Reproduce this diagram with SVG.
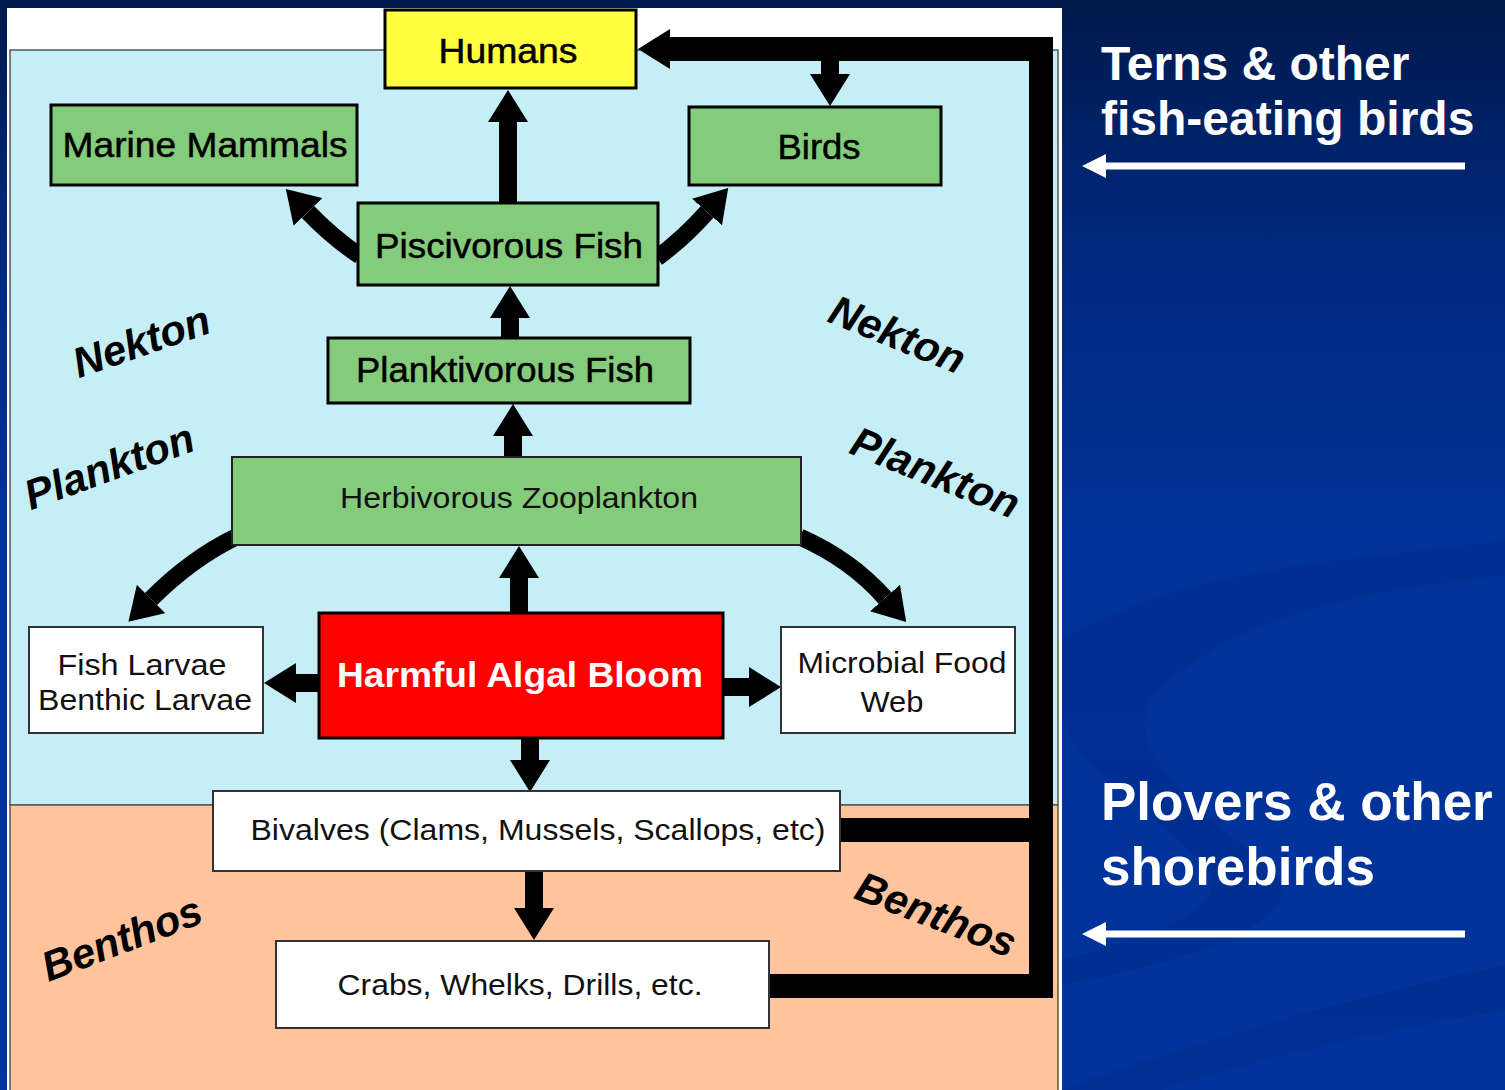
<svg xmlns="http://www.w3.org/2000/svg" width="1505" height="1090" viewBox="0 0 1505 1090">
<defs>
<linearGradient id="bg" x1="0" y1="0" x2="0" y2="1">
<stop offset="0" stop-color="#00194b"/>
<stop offset="0.22" stop-color="#00287c"/>
<stop offset="0.5" stop-color="#003398"/>
<stop offset="1" stop-color="#00349c"/>
</linearGradient>
<marker id="head" viewBox="0 0 32 40" refX="0" refY="20" markerWidth="32" markerHeight="40" markerUnits="userSpaceOnUse" orient="auto">
<path d="M0,0 L32,20 L0,40 Z" fill="#000"/>
</marker>
<marker id="whead" viewBox="0 0 24 24" refX="0" refY="12" markerWidth="24" markerHeight="24" markerUnits="userSpaceOnUse" orient="auto">
<path d="M0,0 L24,12 L0,24 Z" fill="#fff"/>
</marker>
</defs>
<style>
.box{stroke:#000;stroke-width:3}
.green{fill:#84cc7c}
.wbox{fill:#fff;stroke:#333;stroke-width:2}
.t{font-family:"Liberation Sans",Arial,Helvetica,sans-serif;font-size:35px;fill:#000;text-anchor:middle;stroke:#000;stroke-width:0.5}
.thin{font-family:"Liberation Sans",Arial,Helvetica,sans-serif;font-size:30px;fill:#111;text-anchor:middle}
.zone{font-family:"Liberation Sans",Arial,Helvetica,sans-serif;font-size:42px;font-weight:bold;font-style:italic;fill:#000;text-anchor:middle}
.side{font-family:"Liberation Sans",Arial,Helvetica,sans-serif;font-weight:bold;fill:#fff}
.arrow{fill:none;stroke:#000;stroke-width:18;marker-end:url(#head)}
.curve{fill:none;stroke:#000;stroke-width:17;marker-end:url(#head)}
.loop{fill:none;stroke:#000;stroke-width:24;stroke-linejoin:miter}
.warrow{fill:none;stroke:#fff;stroke-width:7;marker-end:url(#whead)}
</style>

<!-- background -->
<rect x="0" y="0" width="1505" height="1090" fill="url(#bg)"/>
<g fill="#002c8a" opacity="0.5">
<path d="M1060,640 C1200,560 1380,560 1505,540 L1505,575 C1380,590 1230,610 1150,700 C1120,760 1220,820 1280,880 C1300,920 1200,960 1060,985 L1060,960 C1180,930 1240,900 1200,860 C1140,800 1060,760 1060,700 Z"/>
<path d="M1060,1090 C1200,1040 1380,990 1505,965 L1505,1010 C1380,1030 1250,1060 1160,1090 Z"/>
</g>

<!-- picture panel -->
<rect x="7" y="8" width="1055" height="1082" fill="#fff"/>
<rect x="10" y="50" width="1048" height="755" fill="#c6eef6" stroke="#555" stroke-width="1.5"/>
<rect x="10" y="805" width="1048" height="290" fill="#ffc49e" stroke="#555" stroke-width="1.5"/>

<!-- zone labels -->
<g id="zone-labels">
<text class="zone" transform="translate(146,355) rotate(-19)">Nekton</text>
<text class="zone" transform="translate(114,480) rotate(-20)">Plankton</text>
<text class="zone" transform="translate(892,348) rotate(22)">Nekton</text>
<text class="zone" transform="translate(930,486) rotate(22)">Plankton</text>
<text class="zone" transform="translate(127,952) rotate(-21)">Benthos</text>
<text class="zone" transform="translate(931,928) rotate(21)">Benthos</text>
</g>

<!-- connectors -->
<g id="connectors">
<path class="loop" d="M769,986 H1041 V49 H670" marker-end="url(#head)"/>
<path class="loop" d="M840,830 H1041"/>
<path class="arrow" d="M830,58 V74"/>
<path class="arrow" d="M508,203 V122"/>
<path class="curve" d="M360,256 Q333,238 308,212"/>
<path class="curve" d="M657,258 Q684,238 707,212"/>
<path class="arrow" d="M510,338 V318"/>
<path class="arrow" d="M513,457 V436"/>
<path class="arrow" d="M519,613 V578"/>
<path class="curve" d="M236,537 C205,552 176,574 151,599"/>
<path class="curve" d="M800,537 C834,552 862,572 885,598"/>
<path class="arrow" d="M319,683 H296"/>
<path class="arrow" d="M723,687 H749"/>
<path class="arrow" d="M530,738 V760"/>
<path class="arrow" d="M534,871 V908"/>
</g>

<!-- nodes -->
<g id="humans">
<rect class="box" x="385" y="10" width="251" height="78" fill="#ffff40"/>
<text class="t" x="508" y="63" textLength="139" lengthAdjust="spacingAndGlyphs">Humans</text>
</g>
<g id="marine-mammals">
<rect class="box green" x="51" y="105" width="306" height="80"/>
<text class="t" x="205" y="157" textLength="285" lengthAdjust="spacingAndGlyphs">Marine Mammals</text>
</g>
<g id="birds">
<rect class="box green" x="689" y="107" width="252" height="78"/>
<text class="t" x="819" y="159" textLength="83" lengthAdjust="spacingAndGlyphs">Birds</text>
</g>
<g id="piscivorous-fish">
<rect class="box green" x="358" y="203" width="300" height="82"/>
<text class="t" x="509" y="258" textLength="268" lengthAdjust="spacingAndGlyphs">Piscivorous Fish</text>
</g>
<g id="planktivorous-fish">
<rect class="box green" x="328" y="338" width="362" height="65"/>
<text class="t" x="505" y="382" textLength="298" lengthAdjust="spacingAndGlyphs">Planktivorous Fish</text>
</g>
<g id="herbivorous-zooplankton">
<rect class="green" x="232" y="457" width="569" height="88" stroke="#222" stroke-width="2"/>
<text class="thin" x="519" y="508" textLength="358" lengthAdjust="spacingAndGlyphs">Herbivorous Zooplankton</text>
</g>
<g id="fish-larvae">
<rect class="wbox" x="29" y="627" width="234" height="106"/>
<text class="thin" x="142" y="675" textLength="169" lengthAdjust="spacingAndGlyphs">Fish Larvae</text>
<text class="thin" x="145" y="710" textLength="214" lengthAdjust="spacingAndGlyphs">Benthic Larvae</text>
</g>
<g id="harmful-algal-bloom">
<rect class="box" x="319" y="613" width="404" height="125" fill="#ff0000"/>
<text x="520" y="687" font-family="Liberation Sans, Arial, Helvetica, sans-serif" font-size="35" font-weight="bold" fill="#fff" text-anchor="middle" textLength="366" lengthAdjust="spacingAndGlyphs">Harmful Algal Bloom</text>
</g>
<g id="microbial-food-web">
<rect class="wbox" x="781" y="627" width="234" height="106"/>
<text class="thin" x="902" y="673" textLength="209" lengthAdjust="spacingAndGlyphs">Microbial Food</text>
<text class="thin" x="892" y="712" textLength="63" lengthAdjust="spacingAndGlyphs">Web</text>
</g>
<g id="bivalves">
<rect class="wbox" x="213" y="791" width="627" height="80"/>
<text class="thin" x="538" y="840" textLength="575" lengthAdjust="spacingAndGlyphs">Bivalves (Clams, Mussels, Scallops, etc)</text>
</g>
<g id="crabs">
<rect class="wbox" x="276" y="941" width="493" height="87"/>
<text class="thin" x="520" y="995" textLength="365" lengthAdjust="spacingAndGlyphs">Crabs, Whelks, Drills, etc.</text>
</g>

<!-- side annotations -->
<g id="terns">
<text class="side" x="1101" y="80" font-size="48">Terns &amp; other</text>
<text class="side" x="1101" y="135" font-size="48">fish-eating birds</text>
<path class="warrow" d="M1465,166 H1106"/>
</g>
<g id="plovers">
<text class="side" x="1101" y="820" font-size="53">Plovers &amp; other</text>
<text class="side" x="1101" y="885" font-size="53">shorebirds</text>
<path class="warrow" d="M1465,934 H1106"/>
</g>
</svg>
